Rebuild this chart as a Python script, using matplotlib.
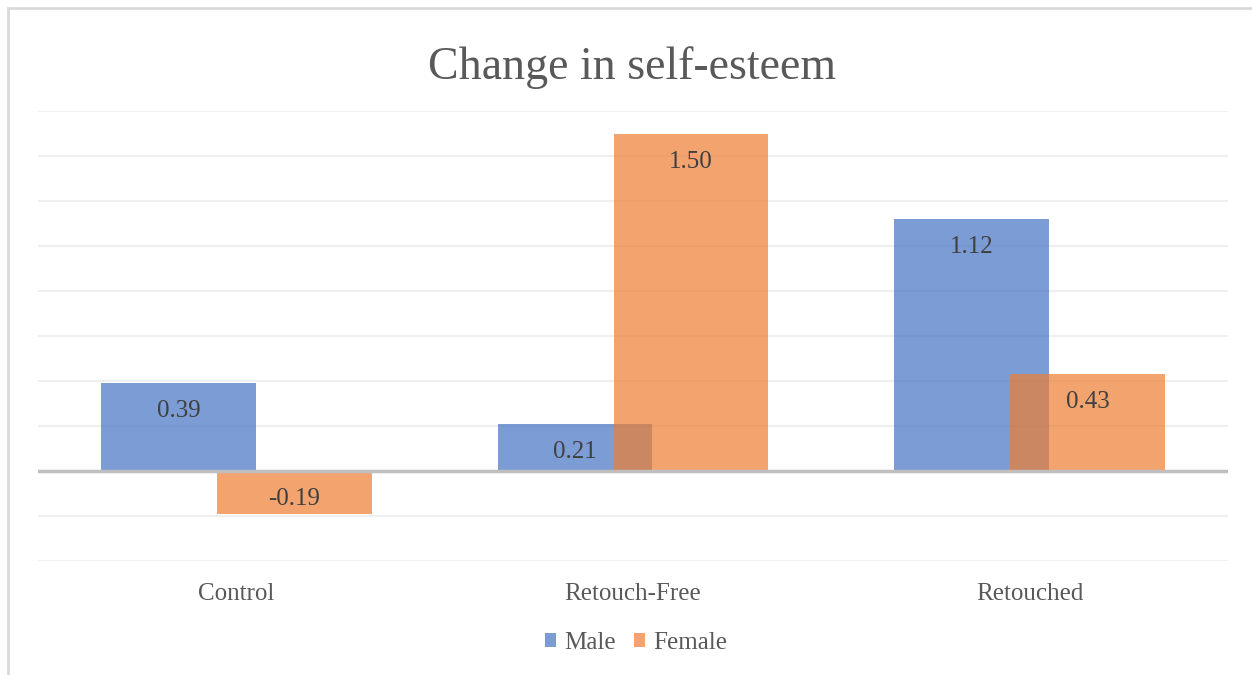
"""Grouped bar chart: change in self-esteem by condition and gender."""

import matplotlib

matplotlib.use("Agg")
import matplotlib.pyplot as plt
from matplotlib.patches import Rectangle

categories = ["Control", "Retouch-Free", "Retouched"]
male = [0.39, 0.21, 1.12]
female = [-0.19, 1.50, 0.43]

plt.rcParams["font.family"] = ["Liberation Serif", "DejaVu Serif"]

fig = plt.figure(figsize=(12.52, 6.75), dpi=100)
ax = fig.add_axes([38 / 1252, 1 - 561 / 675, 1190 / 1252, 450 / 675])

# outer chart frame (only top/left edges visible in the crop)
fig.patches.append(Rectangle((8 / 1252, -0.1), 1.2, (667 / 675) + 0.1, transform=fig.transFigure,
                             fill=False, edgecolor="#d9d9d9", linewidth=2, zorder=0))

x = list(range(len(categories)))
width = 0.39
offset = 0.146
bars_m = ax.bar([i - offset for i in x], male, width, color="#4472C4", alpha=0.7,
                label="Male", zorder=2)
bars_f = ax.bar([i + offset for i in x], female, width, color="#ED7D31", alpha=0.7,
                label="Female", zorder=3)

for bars in (bars_m, bars_f):
    for b in bars:
        v = b.get_height()
        xc = b.get_x() + b.get_width() / 2
        ax.annotate(f"{v:.2f}", (xc, max(v, 0)), xytext=(0, -28),
                    textcoords="offset pixels", ha="center", va="center",
                    fontsize=18, color="#404040", zorder=4)

ax.set_xlim(-0.5, 2.5)
ax.set_ylim(-0.4, 1.6)
ax.set_yticks([i * 0.2 - 0.4 for i in range(11)])
ax.yaxis.grid(True, color="#efefef", linewidth=1.5, zorder=0)
ax.axhline(0, color="#bfbfbf", linewidth=2.5, zorder=5)
ax.tick_params(axis="y", left=False, labelleft=False)
ax.set_xticks(x)
ax.set_xticklabels(categories, fontsize=18, color="#595959")
ax.tick_params(axis="x", bottom=False, pad=12)
for s in ax.spines.values():
    s.set_visible(False)

fig.text(632 / 1252, 1 - 68 / 675, "Change in self-esteem", ha="center", va="center",
         fontsize=33, color="#595959")

leg = fig.legend(loc="center", bbox_to_anchor=(636 / 1252, 1 - 643 / 675), ncol=2,
                 frameon=False, fontsize=18, handlelength=0.45, handleheight=0.45,
                 handletextpad=0.3, columnspacing=0.75)
for t in leg.get_texts():
    t.set_color("#595959")

fig.savefig("out.png", dpi=100)
plt.close(fig)
